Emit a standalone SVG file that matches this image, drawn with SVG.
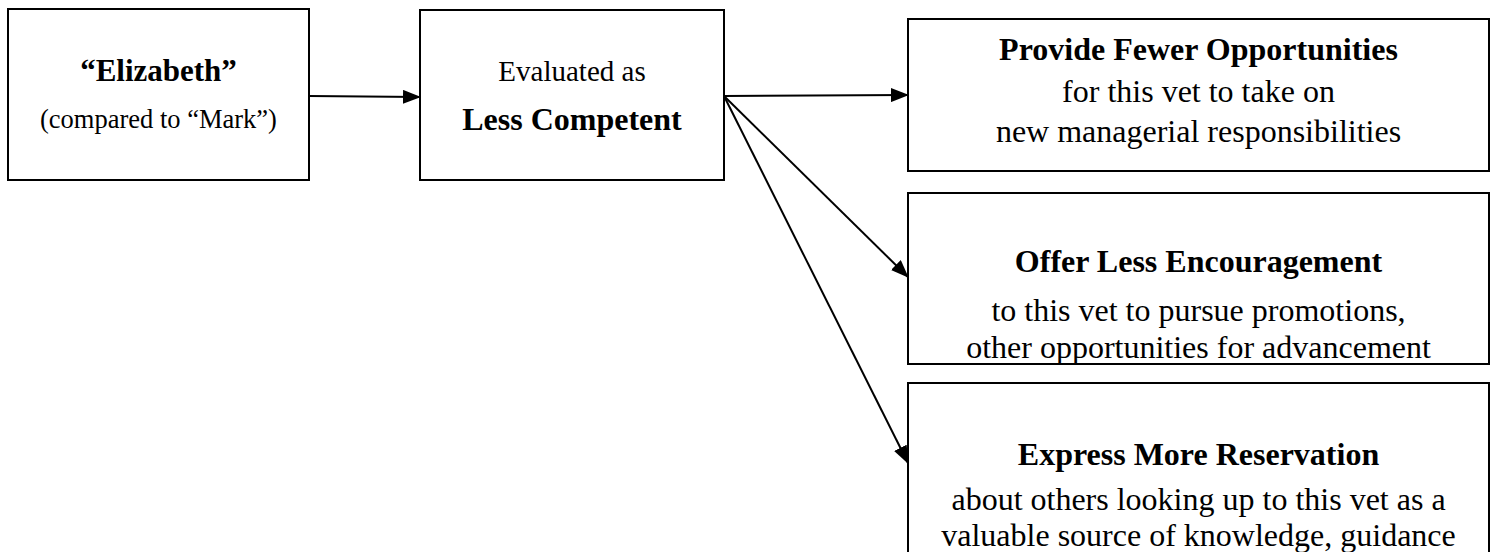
<svg xmlns="http://www.w3.org/2000/svg" width="1496" height="552" viewBox="0 0 1496 552">
<style>
.box{fill:#fff;stroke:#000;stroke-width:2}
.t{font-family:"Liberation Serif","Times New Roman",serif;fill:#000;text-anchor:middle}
.b{font-weight:bold}
.h{font-size:32px;font-weight:bold}
.s{font-size:32px}
.edge{stroke:#000;stroke-width:2;fill:none;marker-end:url(#ah)}
</style>
<defs>
<marker id="ah" markerUnits="userSpaceOnUse" markerWidth="18" markerHeight="14" refX="17" refY="7" orient="auto">
<path d="M0,0 L18,7 L0,14 Z" fill="#000"/>
</marker>
</defs>
<rect width="1496" height="552" fill="#fff"/>
<g id="connectors">
<line class="edge" x1="309" y1="96" x2="420" y2="97"/>
<line class="edge" x1="724" y1="96" x2="908" y2="95"/>
<line class="edge" x1="724" y1="96" x2="908" y2="277"/>
<line class="edge" x1="724" y1="96" x2="908" y2="463"/>
</g>
<g id="node-elizabeth">
<rect class="box" x="8" y="9" width="301" height="171"/>
<text class="t b" x="158.5" y="81" font-size="31">“Elizabeth”</text>
<text class="t" x="158.5" y="128" font-size="26.5">(compared to “Mark”)</text>
</g>
<g id="node-evaluated">
<rect class="box" x="420" y="10" width="304" height="170"/>
<text class="t" x="572" y="81" font-size="29">Evaluated as</text>
<text class="t b" x="572" y="130" font-size="32">Less Competent</text>
</g>
<g id="node-fewer">
<rect class="box" x="908" y="19" width="581" height="152"/>
<text class="t h" x="1198.5" y="60">Provide Fewer Opportunities</text>
<text class="t s" x="1198.5" y="102">for this vet to take on</text>
<text class="t s" x="1198.5" y="142">new managerial responsibilities</text>
</g>
<g id="node-encouragement">
<rect class="box" x="908" y="193" width="581" height="171"/>
<text class="t h" x="1198.5" y="272">Offer Less Encouragement</text>
<text class="t s" x="1198.5" y="321">to this vet to pursue promotions,</text>
<text class="t s" x="1198.5" y="358">other opportunities for advancement</text>
</g>
<g id="node-reservation">
<rect class="box" x="908" y="383" width="581" height="200"/>
<text class="t h" x="1198.5" y="465">Express More Reservation</text>
<text class="t s" x="1198.5" y="510">about others looking up to this vet as a</text>
<text class="t s" x="1198.5" y="546">valuable source of knowledge, guidance</text>
</g>
</svg>
